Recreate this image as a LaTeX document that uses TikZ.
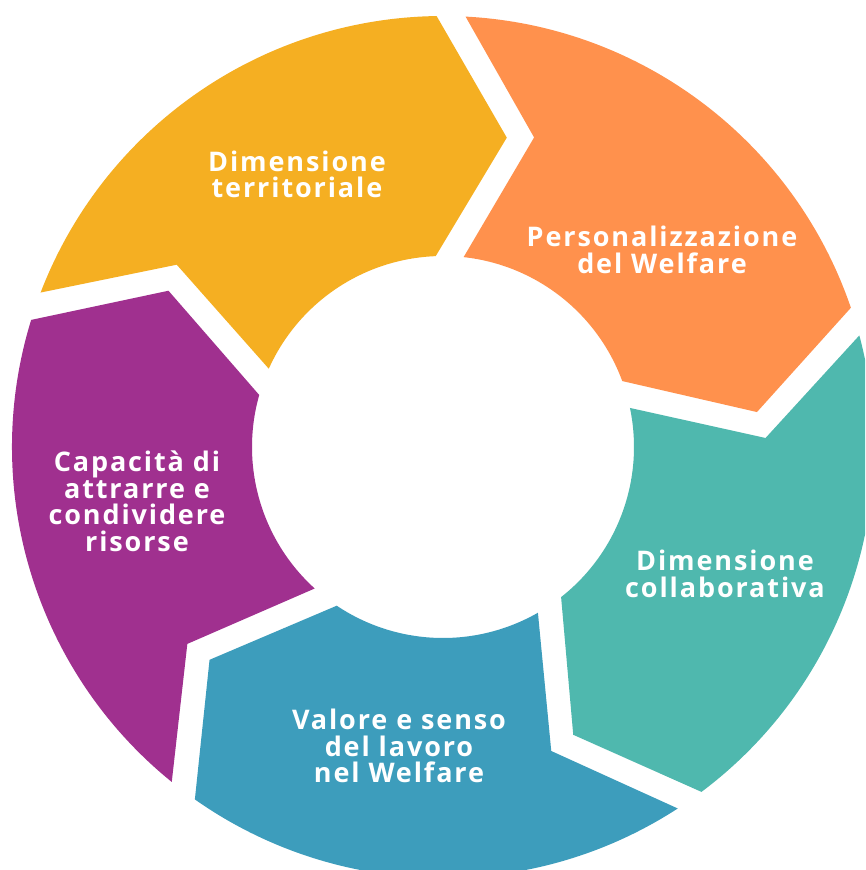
\documentclass[tikz,border=0pt]{standalone}
\usepackage{fontspec}
\setmainfont{Open Sans}[LetterSpace=7]
\definecolor{cyel}{HTML}{F5AF22}
\definecolor{cora}{HTML}{FF914D}
\definecolor{cteal}{HTML}{4FB8AE}
\definecolor{cblue}{HTML}{3D9DBC}
\definecolor{cpurp}{HTML}{A0308F}
\tikzset{
  seglabel/.style={text=white, align=center, inner sep=0pt,
    font=\fontsize{27}{26.5}\selectfont\bfseries},
  segshape/.style={fill=#1, draw=none}
}
\begin{document}
\begin{tikzpicture}[x=1pt,y=1pt]
\useasboundingbox (-443,-423) rectangle (422,447);
\clip (-443,-423) rectangle (422,447);
\fill[white] (-443,-423) rectangle (422,447);
\foreach \k/\c in {0/cyel,1/cora,2/cteal,3/cblue,4/cpurp}{
  \begin{scope}[rotate=-72*\k]
    \path[segshape=\c]
      (159:431pt) arc[start angle=159, end angle=90.85, radius=431pt]
      -- (78.35:315.9pt)
      -- (92.2:191pt) arc[start angle=92.2, end angle=155.8, radius=191pt]
      -- (145.6:322.7pt) -- cycle;
  \end{scope}
}
\node[seglabel] (terr) at (-146,272.8) {Dimensione\\territoriale};
\node[seglabel] (pers) at (219,197) {Personalizzazione\\del Welfare};
\node[seglabel] (coll) at (282,-127) {Dimensione\\collaborativa};
\node[seglabel] (valo) at (-44,-299) {Valore e senso\\del lavoro\\nel Welfare};
\node[seglabel] (capa) at (-306,-54.5) {Capacità di\\attrarre e\\condividere\\risorse};
\end{tikzpicture}
\end{document}
